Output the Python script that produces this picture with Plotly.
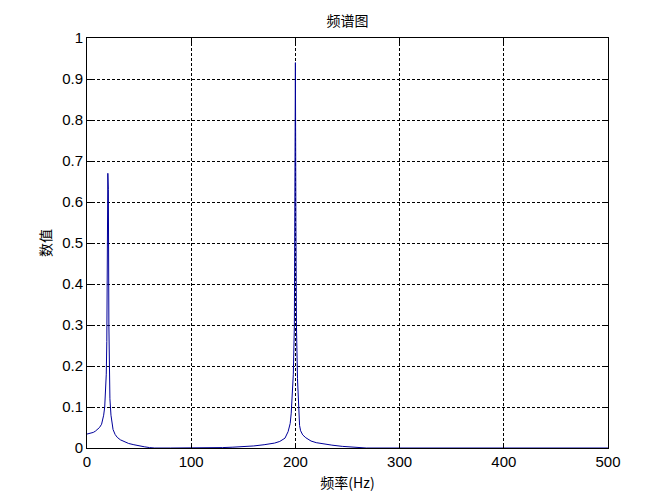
import plotly.graph_objects as go

# Spectrum samples (frequency in Hz, magnitude)
freq = [0, 2, 4, 6, 8, 10, 12, 14, 15, 16, 17, 18, 18.5, 19, 19.5, 20, 20.5,
        21, 21.5, 22, 23, 24, 25, 27, 29, 32, 36, 40, 45, 50, 55, 60, 65,
        80, 100, 120, 130, 140, 150, 160, 170, 180, 185, 190, 193, 195, 196,
        197, 198, 199, 199.5, 200, 200.5, 201, 202, 203, 204, 205, 207, 210,
        215, 220, 226, 235, 245, 255, 262, 268, 300, 400, 500]
mag = [0.034, 0.035, 0.036, 0.038, 0.041, 0.045, 0.050, 0.058, 0.066, 0.080,
       0.100, 0.140, 0.180, 0.260, 0.450, 0.670, 0.630, 0.300, 0.180, 0.120,
       0.080, 0.056, 0.045, 0.033, 0.026, 0.020, 0.015, 0.011, 0.008, 0.005,
       0.003, 0.001, 0.0, 0.0, 0.0, 0.0, 0.001, 0.002, 0.003, 0.005, 0.008,
       0.012, 0.016, 0.024, 0.040, 0.060, 0.085, 0.120, 0.180, 0.300, 0.590,
       0.940, 0.550, 0.300, 0.170, 0.100, 0.055, 0.042, 0.032, 0.025, 0.017,
       0.013, 0.010, 0.007, 0.004, 0.002, 0.001, 0.0, 0.0, 0.0, 0.0]

x_ticks = [0, 100, 200, 300, 400, 500]
y_ticks = [0, 0.1, 0.2, 0.3, 0.4, 0.5, 0.6, 0.7, 0.8, 0.9, 1]
y_tick_text = ["0", "0.1", "0.2", "0.3", "0.4", "0.5", "0.6", "0.7", "0.8", "0.9", "1"]

title_text = "频谱图"
x_title = "频率(Hz)"
y_title = "数值"

fig = go.Figure()
fig.add_trace(go.Scatter(x=freq, y=mag, mode="lines",
                         line=dict(color="#00009a", width=1),
                         showlegend=False, hoverinfo="x+y"))

axis_common = dict(
    showline=True, linecolor="black", linewidth=1, mirror="ticks",
    ticks="inside", ticklen=5, tickcolor="black", tickwidth=1,
    showgrid=True, gridcolor="black", gridwidth=1, griddash="3px,2px",
    zeroline=False,
    tickfont=dict(family="Liberation Sans, Arial, sans-serif", size=15, color="black"),
)

cjk = "Noto Sans CJK SC, sans-serif"

fig.update_layout(
    width=672, height=504,
    margin=dict(l=79, r=72, t=30, b=64),
    paper_bgcolor="white", plot_bgcolor="white",
    title=dict(text=title_text, x=(79 + 600) / 2 / 672, xanchor="center",
               y=1 - 13 / 504, yanchor="middle",
               font=dict(family=cjk, size=14, color="black")),
    xaxis=dict(range=[0, 500], tickvals=x_ticks, ticktext=[str(v) for v in x_ticks],
               title=dict(text=x_title, standoff=9,
                          font=dict(family=cjk, size=14, color="black")),
               **axis_common),
    yaxis=dict(range=[0, 1], tickvals=y_ticks, ticktext=y_tick_text,
               title=dict(text=y_title, standoff=7,
                          font=dict(family=cjk, size=14, color="black")),
               **axis_common),
)

fig.write_html("out.html")
